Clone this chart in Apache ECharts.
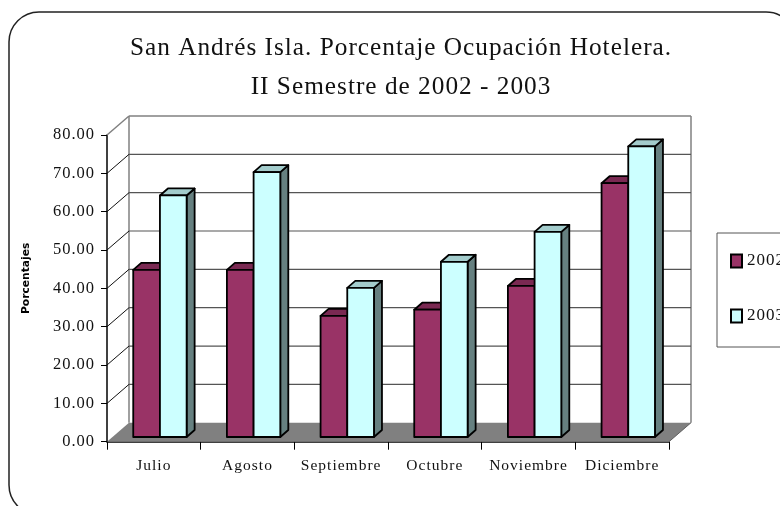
<!DOCTYPE html>
<html><head><meta charset="utf-8">
<style>html,body{margin:0;padding:0;background:#fff}#c{width:780px;height:506px}</style>
<script src="https://cdn.jsdelivr.net/npm/echarts@6/dist/echarts.min.js"></script>
</head><body><div id="c"></div>
<script>
const categories = ['Julio','Agosto','Septiembre','Octubre','Noviembre','Diciembre'];
const values2002 = [43.6,43.6,31.6,33.2,39.4,66.2];
const values2003 = [63.0,69.1,38.9,45.7,53.5,75.8];
const yTicks = [0,10,20,30,40,50,60,70,80];

// The reference's serif text is letter-spaced; canvas carries that per context, so tie it to the font.
const fontProp = Object.getOwnPropertyDescriptor(CanvasRenderingContext2D.prototype,'font');
Object.defineProperty(CanvasRenderingContext2D.prototype,'font',{
  get(){return fontProp.get.call(this);},
  set(v){fontProp.set.call(this,v); this.letterSpacing = /Liberation Serif/.test(v) ? '1px' : '0px';}
});

const chart = echarts.init(document.getElementById('c'));
const serif = '"Liberation Serif","Times New Roman",serif';
const wallDx = 22, wallDy = -19;
const barDx = 8, barDy = -7, barBaseDy = -4.7, groupShift = 6.1, barFrac = 0.285;

function wallItem(params, api) {
  const v = api.value(0);
  const p = api.coord([0, v]);
  const cs = params.coordSys;
  const x0 = cs.x, x1 = cs.x + cs.width, y = p[1];
  const children = [];
  const gray = '#808080';
  if (v === 0) {
    children.push({type:'polygon', shape:{points:[[x0,y],[x1,y],[x1+wallDx,y+wallDy],[x0+wallDx,y+wallDy]]}, style:{fill:gray, stroke:null}});
    children.push({type:'line', shape:{x1:x0+wallDx,y1:y+wallDy,x2:x0+wallDx,y2:cs.y+wallDy}, style:{stroke:gray,lineWidth:1.5}});
    children.push({type:'line', shape:{x1:x1+wallDx,y1:y+wallDy,x2:x1+wallDx,y2:cs.y+wallDy}, style:{stroke:gray,lineWidth:1.5}});
    children.push({type:'line', shape:{x1:x1,y1:y,x2:x1+wallDx,y2:y+wallDy}, style:{stroke:'#606060',lineWidth:1}});
  } else {
    const top = v === yTicks[yTicks.length-1];
    children.push({type:'line', shape:{x1:x0+wallDx,y1:y+wallDy,x2:x1+wallDx,y2:y+wallDy}, style:{stroke:top?gray:'#555',lineWidth:top?1.5:1.2}});
    children.push({type:'line', shape:{x1:x0,y1:y,x2:x0+wallDx,y2:y+wallDy}, style:{stroke:top?gray:'#111',lineWidth:top?1.5:1}});
  }
  return {type:'group', children};
}

function barRenderer(seriesIdx, front, topCol, sideCol) {
  return function (params, api) {
    const cat = api.value(0), val = api.value(1);
    const band = api.size([1,0])[0];
    const w = band * barFrac;
    const c = api.coord([cat, val]);
    const b = api.coord([cat, 0]);
    const xl = c[0] + groupShift + (seriesIdx === 0 ? -w : 0), xr = xl + w;
    const yt = c[1] + barBaseDy, yb = b[1] + barBaseDy;
    const st = (fill) => ({fill, stroke:'#000', lineWidth:1.8, lineJoin:'round'});
    return {type:'group', children:[
      {type:'polygon', shape:{points:[[xr,yt],[xr+barDx,yt+barDy],[xr+barDx,yb+barDy],[xr,yb]]}, style:st(sideCol)},
      {type:'polygon', shape:{points:[[xl,yt],[xr,yt],[xr+barDx,yt+barDy],[xl+barDx,yt+barDy]]}, style:st(topCol)},
      {type:'rect', shape:{x:xl,y:yt,width:w,height:yb-yt}, style:st(front)}
    ]};
  };
}

chart.setOption({
  animation:false,
  backgroundColor:'#fff',
  title:{
    text:'San Andrés Isla. Porcentaje Ocupación Hotelera.\nII Semestre de 2002 - 2003',
    left:396, top:24, textAlign:'center',
    textStyle:{fontFamily:serif,fontWeight:'normal',fontSize:25.3,lineHeight:39,color:'#111'}
  },
  legend:{
    left:717, top:233, orient:'vertical', data:['2002','2003'], icon:'rect',
    padding:[19,24,22,13], itemGap:37, itemWidth:11, itemHeight:13,
    borderColor:'#555', borderWidth:1, backgroundColor:'#fff',
    textStyle:{fontFamily:serif,fontSize:17,color:'#111'},
    selectedMode:false
  },
  grid:{left:107, top:135, width:562, height:306.7, outerBoundsMode:'none'},
  xAxis:{
    type:'category', data:categories, boundaryGap:true,
    axisLine:{lineStyle:{color:'#000',width:1.5}},
    axisTick:{show:true,length:8,alignWithLabel:false,lineStyle:{color:'#000',width:1}},
    axisLabel:{interval:0,margin:16,fontFamily:serif,fontSize:15.5,color:'#111'},
    splitLine:{show:false}
  },
  yAxis:{
    type:'value', min:0, max:80, interval:10,
    name:'Porcentajes', nameLocation:'middle', nameGap:75, nameRotate:90,
    nameTextStyle:{fontFamily:'"DejaVu Sans",sans-serif',fontWeight:'bold',fontSize:10.7,color:'#000',padding:[0,0,0,20]},
    axisLine:{show:true,lineStyle:{color:'#000',width:1.5}},
    axisTick:{show:true,length:6,lineStyle:{color:'#000',width:1}},
    axisLabel:{margin:12,fontFamily:serif,fontSize:16.5,color:'#111',formatter:(v)=>v.toFixed(2)},
    splitLine:{show:false}
  },
  series:[
    {type:'custom', name:'walls', silent:true, z:1, coordinateSystem:'cartesian2d',
     data:yTicks.map(v=>[v]), encode:{y:0}, renderItem:wallItem},
    {type:'custom', name:'2002', z:2, itemStyle:{color:'#993366',borderColor:'#000',borderWidth:1.5},
     data:values2002.map((v,i)=>[i,v]), encode:{x:0,y:1},
     renderItem:barRenderer(0,'#993366','#7A2952','#4D1A33')},
    {type:'custom', name:'2003', z:3, itemStyle:{color:'#CCFFFF',borderColor:'#000',borderWidth:1.5},
     data:values2003.map((v,i)=>[i,v]), encode:{x:0,y:1},
     renderItem:barRenderer(1,'#CCFFFF','#A3CCCC','#668080')}
  ],
  graphic:[{type:'rect', z:-1, silent:true, shape:{x:9,y:12,width:787,height:503,r:30}, style:{fill:'none',stroke:'#222',lineWidth:1.5}}]
});
</script></body></html>
